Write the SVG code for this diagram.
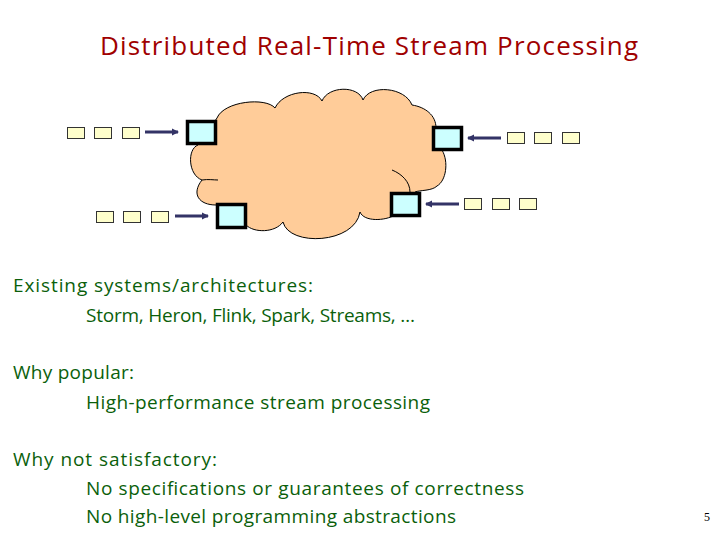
<svg xmlns="http://www.w3.org/2000/svg" width="720" height="540" viewBox="0 0 720 540">
<defs>
<marker id="ah" markerUnits="userSpaceOnUse" markerWidth="8" markerHeight="8" refX="6" refY="4" orient="auto">
<path d="M0,0.5 L7,4 L0,7.5 Z" fill="#333366"/>
</marker>
<style>
.title{font-family:"Open Sans","DejaVu Sans",sans-serif;font-size:26px;fill:#A00000}
.body{font-family:"Open Sans","DejaVu Sans",sans-serif;font-size:19px;fill:#0B5F0B}
.cloud{fill:#FFCC99;stroke:#000;stroke-width:1}
.inner{fill:none;stroke:#000;stroke-width:1}
.node{fill:#CCFFFF;stroke:#000;stroke-width:3.5}
.item{fill:#FFFFCC;stroke:#333;stroke-width:1}
.arrow{stroke:#333366;stroke-width:3;fill:none;marker-end:url(#ah)}
.num{font-family:"Liberation Serif",serif;font-size:12px;fill:#000}
</style>
</defs>
<rect width="720" height="540" fill="#fff"/>
<text class="title" x="100" y="55" textLength="538">Distributed Real-Time Stream Processing</text>

<g id="cloud">
<path class="cloud" d="M217,118 C224,101 266,97 275,108 C283,91 315,87 322,101 C328,86 358,85 363,100 C370,84 405,87 412,105 C425,107 436,115 436,128 L442,150 C449,162 446,181 437,186 C432,191 420,190 415,192 L395,215 C385,221 364,222 360,212 C355,244 289,247 283,222 C275,233 254,233 246,225 L216,205 C199,205 191,194 202,180 C188,175 187,149 198,145 Z"/>
<path class="inner" d="M202,180 C208,179 214,180 218,180"/>
<path class="inner" d="M392,170 C402,174 410,182 410,192"/>
</g>

<g id="queue1">
<rect class="item" x="67.5" y="127.5" width="17" height="11"/>
<rect class="item" x="94.5" y="127.5" width="17" height="11"/>
<rect class="item" x="122.5" y="127.5" width="17" height="11"/>
</g>
<g id="queue2">
<rect class="item" x="96.5" y="211.5" width="17" height="11"/>
<rect class="item" x="123.5" y="211.5" width="17" height="11"/>
<rect class="item" x="151.5" y="211.5" width="17" height="11"/>
</g>
<g id="queue3">
<rect class="item" x="507.5" y="132.5" width="17" height="11"/>
<rect class="item" x="534.5" y="132.5" width="17" height="11"/>
<rect class="item" x="562.5" y="132.5" width="17" height="11"/>
</g>
<g id="queue4">
<rect class="item" x="464.5" y="198.5" width="17" height="11"/>
<rect class="item" x="492.5" y="198.5" width="17" height="11"/>
<rect class="item" x="519.5" y="198.5" width="17" height="11"/>
</g>

<g id="connectors">
<line class="arrow" x1="145" y1="132" x2="178" y2="132"/>
<line class="arrow" x1="175" y1="216" x2="208" y2="216"/>
<line class="arrow" x1="501" y1="138" x2="468" y2="138"/>
<line class="arrow" x1="459" y1="204" x2="426" y2="204"/>
</g>

<g id="node1"><rect class="node" x="187.5" y="121.5" width="28" height="22"/></g>
<g id="node2"><rect class="node" x="217.5" y="204.5" width="28" height="23"/></g>
<g id="node3"><rect class="node" x="433.5" y="127.5" width="28" height="22"/></g>
<g id="node4"><rect class="node" x="391.5" y="193.5" width="28" height="22"/></g>

<g id="text">
<text class="body" x="13" y="292" textLength="300">Existing systems/architectures:</text>
<text class="body" x="86" y="322" textLength="329">Storm, Heron, Flink, Spark, Streams, …</text>
<text class="body" x="13" y="379" textLength="121">Why popular:</text>
<text class="body" x="86" y="409" textLength="344">High-performance stream processing</text>
<text class="body" x="13" y="466" textLength="204">Why not satisfactory:</text>
<text class="body" x="86" y="495" textLength="438">No specifications or guarantees of correctness</text>
<text class="body" x="86" y="523" textLength="370">No high-level programming abstractions</text>
</g>
<text class="num" x="704" y="521">5</text>
</svg>
